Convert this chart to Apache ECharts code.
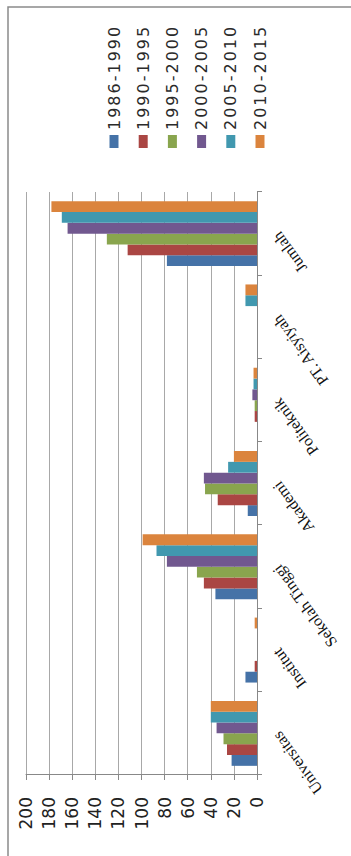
<!DOCTYPE html>
<html>
<head>
<meta charset="utf-8">
<script src="https://cdn.jsdelivr.net/npm/echarts@6/dist/echarts.min.js"></script>
<style>
html,body{margin:0;padding:0;background:#fff;overflow:hidden;width:351px;height:856px;}
#wrap{position:absolute;left:0;top:0;width:856px;height:351px;transform-origin:0 0;transform:translate(0,856px) rotate(-90deg);}
#chart{width:856px;height:351px;}
</style>
</head>
<body>
<div id="wrap"><div id="chart"></div></div>
<script>
const categories = ['Universitas', 'Institut', 'Sekolah Tinggi', 'Akademi', 'Politeknik', 'PT. Aisyiyah', 'Jumlah'];
const seriesNames = ['1986-1990', '1990-1995', '1995-2000', '2000-2005', '2005-2010', '2010-2015'];
const s1986_1990 = [22, 10, 36, 8, 0, 0, 78];
const s1990_1995 = [26, 2, 46, 34, 2, 0, 112];
const s1995_2000 = [29, 0, 52, 45, 2, 0, 130];
const s2000_2005 = [35, 0, 78, 46, 4, 0, 164];
const s2005_2010 = [40, 0, 87, 25, 3, 10, 169];
const s2010_2015 = [40, 2, 99, 20, 3, 10, 178];
const valueTicks = [0, 20, 40, 60, 80, 100, 120, 140, 160, 180, 200];

const seriesData = [s1986_1990, s1990_1995, s1995_2000, s2000_2005, s2005_2010, s2010_2015];
const colors = ['#4572A7', '#AA4643', '#89A54E', '#71588F', '#4198AF', '#DB843D'];

const chart = echarts.init(document.getElementById('chart'), null, {renderer: 'svg'});
chart.setOption({
  animation: false,
  color: colors,
  graphic: [{
    type: 'rect',
    shape: {x: -5, y: 8, width: 854, height: 400},
    style: {fill: 'none', stroke: '#8a8a8a', lineWidth: 1.5},
    silent: true
  }],
  legend: {
    orient: 'vertical',
    left: 703,
    top: 100,
    itemWidth: 13,
    itemHeight: 9,
    itemGap: 11.2,
    icon: 'rect',
    textStyle: {fontFamily: 'DejaVu Sans', fontSize: 16, color: '#2a2a2a', lineHeight: 18},
    data: seriesNames
  },
  grid: {left: 81, right: 192, top: 26, bottom: 94, containLabel: false},
  xAxis: {
    type: 'category',
    data: categories,
    axisLine: {show: true, lineStyle: {color: '#888', width: 1}},
    axisTick: {show: true, length: 5, lineStyle: {color: '#888'}},
    axisLabel: {
      rotate: 36,
      margin: 19,
      interval: 0,
      fontFamily: 'Liberation Serif',
      fontSize: 16,
      color: '#111'
    }
  },
  yAxis: {
    type: 'value',
    min: 0,
    max: 200,
    interval: 20,
    axisLine: {show: true, lineStyle: {color: '#888', width: 1}},
    axisTick: {show: true, length: 5, lineStyle: {color: '#888'}},
    splitLine: {show: true, lineStyle: {color: '#a8a8a8', width: 1}},
    axisLabel: {
      margin: 22,
      fontFamily: 'DejaVu Sans',
      fontSize: 17,
      color: '#222',
      formatter: function (v) { return valueTicks.indexOf(v) >= 0 ? String(v) : ''; }
    }
  },
  series: seriesNames.map(function (name, i) {
    return {
      name: name,
      type: 'bar',
      data: seriesData[i],
      barGap: '0%',
      barCategoryGap: '22%'
    };
  })
});
// wider letter spacing on legend labels, as in the reference
document.querySelectorAll('#chart svg text').forEach(function (t) {
  if (seriesNames.indexOf(t.textContent.trim()) >= 0) {
    t.setAttribute('letter-spacing', '2');
    t.style.letterSpacing = '2px';
  }
});
</script>
</body>
</html>
